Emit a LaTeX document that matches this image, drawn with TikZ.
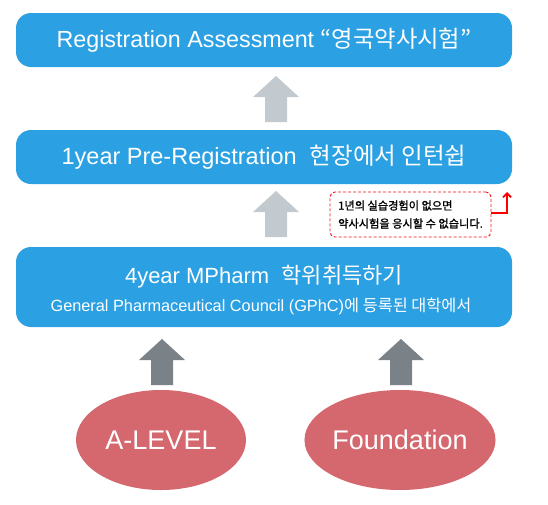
\documentclass[tikz,border=0pt]{standalone}
\usepackage{fontspec}
\setmainfont{Liberation Sans}
\newfontfamily\kr{Noto Sans CJK KR}
\newfontfamily\krb[FakeBold=1.2]{Noto Sans CJK KR}
\usetikzlibrary{shapes.geometric,arrows.meta}
\definecolor{boxblue}{RGB}{43,160,226}
\definecolor{lightarrow}{RGB}{194,202,208}
\definecolor{darkarrow}{RGB}{122,130,135}
\definecolor{ovalred}{RGB}{212,104,110}
\definecolor{notered}{RGB}{236,20,28}
\tikzset{
  stagebox/.style={fill=boxblue, draw=none, rounded corners=15pt, minimum width=496pt, text=white, align=center, inner sep=0pt},
  origin/.style={ellipse, fill=ovalred, draw=none, minimum width=170pt, minimum height=100pt, text=white, font=\fontsize{27}{27}\selectfont, inner sep=0pt},
  notebox/.style={draw=notered, line width=0.9pt, dash pattern=on 3pt off 2pt, rounded corners=5pt, minimum width=161pt, minimum height=45pt, fill=white, align=left, font=\fontsize{11.2}{18}\selectfont\krb, inner sep=0pt},
  pics/uparrow/.style={code={
    \fill[#1] (-11,0) -- (-11,-25) -- (-23,-25) -- (0,-46) -- (23,-25) -- (11,-25) -- (11,0) -- cycle;
  }}
}
\begin{document}
\begin{tikzpicture}[x=1pt,y=-1pt]
\useasboundingbox (0,0) rectangle (548,504);
\node[stagebox, minimum height=54pt] (ra) at (264,40)
  {\fontsize{23.3}{23.3}\selectfont Registration Assessment {\kr “영국약사시험”}};
\node[stagebox, minimum height=54pt] (pre) at (264,157)
  {\fontsize{23.5}{23.5}\selectfont 1year Pre-Registration \ {\kr 현장에서 인턴쉽}};
\node[stagebox, minimum height=80pt] (mp) at (264,287) {};
\node[text=white, font=\fontsize{22}{22}\selectfont] (mpa) at (264,277) {4year MPharm \ {\kr 학위취득하기}};
\node[text=white, font=\fontsize{16.3}{16.3}\selectfont] (mpb) at (261,306) {General Pharmaceutical Council (GPhC){\kr 에 등록된 대학에서}};
\node[notebox] (note) at (410.5,214.5) {1년의 실습경험이 없으면\\약사시험을 응시할 수 없습니다.};
\node[origin] (al) at (161,440) {A-LEVEL};
\node[origin] (fd) at (400,440) {Foundation};
\coordinate (a1) at (276,122);
\coordinate (a2) at (276,237);
\coordinate (a3) at (162,385);
\coordinate (a4) at (401,385);
\pic at (a1) {uparrow=lightarrow};
\pic at (a2) {uparrow=lightarrow};
\pic at (a3) {uparrow=darkarrow};
\pic at (a4) {uparrow=darkarrow};
\coordinate (bend) at (507,213);
\draw[red, line width=1.8pt, -{Straight Barb[length=4pt,width=8pt]}] (note.east |- bend) -- (bend) -- (bend |- 0,192);
\end{tikzpicture}
\end{document}
